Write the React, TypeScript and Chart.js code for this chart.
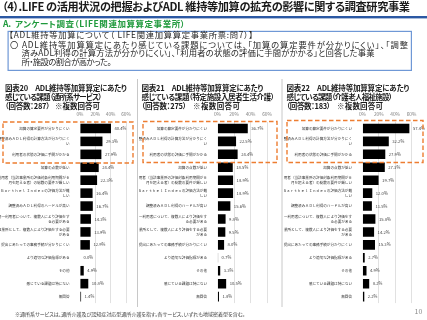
import React, { useEffect, useRef } from "react";
import { Chart, registerables } from "chart.js";

Chart.register(...registerables);

// ---------------- data ----------------
const categoryLabels: string[][] = [
  ["加算の算定要件が分かりにくい"],
  ["調整済みＡＤＬ利得の計算方法が分かりにく", "い"],
  ["利用者の状態の評価に手間がかかる"],
  ["加算の点数が低い"],
  ["利用者（当該事業所の評価対象利用期間が６", "月を超える者）の総数の要件が厳しい"],
  ["Ｂａｒｔｈｅｌ Ｉｎｄｅｘの評価方法が難", "しい"],
  ["調整済みＡＤＬ利得のハードルが高い"],
  ["同一利用者について、複数人により評価をす", "る必要がある"],
  ["事業所として、複数人により評価をする必要", "がある"],
  ["提出にあたっての事務手続が分かりにくい"],
  ["より適切な評価指標がある"],
  ["その他"],
  ["感じている課題は特にない"],
  ["無回答"],
];

const values20 = [40.4, 29.3, 27.9, 24.4, 22.3, 16.4, 16.7, 14.3, 13.9, 12.9, 0.0, 4.9, 10.8, 1.4];
const values21 = [36.7, 22.5, 24.4, 18.5, 18.9, 18.9, 15.6, 9.8, 9.5, 8.0, 0.7, 3.3, 10.5, 1.8];
const values22 = [57.4, 32.2, 27.9, 27.3, 19.7, 12.0, 11.5, 15.8, 14.2, 15.3, 2.7, 4.9, 8.2, 2.2];

const axisTicks = [0, 20, 40, 60];
const axisMax = 60;

const titleText =
  "（4）.LIFE の活用状況の把握およびADL 維持等加算の拡充の影響に関する調査研究事業";
const sectionMark = "A．";
const sectionText = "アンケート調査（LIFE関連加算算定事業所）";
const boxLines = [
  "【ADL維持等加算について（ LIFE関連加算算定事業所票:問7）】",
  "〇 ADL維持等加算算定にあたり感じている課題については、「加算の算定要件が分かりにくい」、「調整",
  "済みADL利得の計算方法が分かりにくい」、「利用者の状態の評価に手間がかかる」と回答した事業",
  "所・施設の割合が高かった。",
];
const headings20 = ["図表20　ADL維持等加算算定にあたり", "感じている課題（通所系サービス）", "（回答数：287）"];
const headings21 = ["図表21　ADL維持等加算算定にあたり", "感じている課題（特定施設入居者生活介護）", "（回答数：275）"];
const headings22 = ["図表22　ADL維持等加算算定にあたり", "感じている課題（介護老人福祉施設）", "（回答数：183）"];
const multiNote = "※複数回答可";
const footnote =
  "※通所系サービスは、通所介護及び認知症対応型通所介護を指す。各サービス、いずれも地域密着型を含む。";
const pageNumber = "10";

// ---------------- layout ----------------
const FONT = "'Noto Sans CJK JP', 'Noto Sans', sans-serif";
const CANVAS_FONT = "'Noto Sans CJK JP'";
const canvasTop = 108;
const plotTop = 122;
const canvasBottom = 308;

type Panel = {
  values: number[];
  headings: string[];
  hx: number;
  hw: number[];
  noteX: number;
  noteW: number;
  left: number;
  width: number;
  plotLeft: number;
  plotRight: number;
  box: [number, number, number, number];
};

const panels: Panel[] = [
  { values: values20, headings: headings20, hx: 5, hw: [122, 97, 45], noteX: 55, noteW: 45, left: 0, width: 136, plotLeft: 80, plotRight: 126, box: [3, 122, 133, 163] },
  { values: values21, headings: headings21, hx: 141.5, hw: [122, 133, 45], noteX: 193, noteW: 47, left: 139, width: 142, plotLeft: 217.5, plotRight: 267, box: [143, 121.5, 277, 162.5] },
  { values: values22, headings: headings22, hx: 286.5, hw: [123, 106, 44], noteX: 337, noteW: 46, left: 284, width: 143, plotLeft: 362.5, plotRight: 411.5, box: [287, 120.5, 423, 162.5] },
];

const valueLabelPlugin = {
  id: "valueLabels",
  afterDatasetsDraw(chart: any) {
    const ctx = chart.ctx as CanvasRenderingContext2D;
    const meta = chart.getDatasetMeta(0);
    const data = chart.data.datasets[0].data as number[];
    ctx.save();
    ctx.font = `4.2px ${CANVAS_FONT}`;
    ctx.fillStyle = "#404040";
    ctx.textBaseline = "middle";
    ctx.textAlign = "left";
    meta.data.forEach((bar: any, i: number) => {
      ctx.fillText(data[i].toFixed(1) + "%", bar.x + 3.5, bar.y);
    });
    ctx.restore();
  },
};

function BarPanel({ p }: { p: Panel }) {
  const ref = useRef<HTMLCanvasElement>(null);
  const height = canvasBottom - canvasTop;
  useEffect(() => {
    if (!ref.current) return;
    const chart = new Chart(ref.current, {
      type: "bar",
      data: {
        labels: categoryLabels,
        datasets: [
          {
            data: p.values,
            backgroundColor: "#000000",
            borderWidth: 0,
            barPercentage: 0.74,
            categoryPercentage: 1,
          },
        ],
      },
      options: {
        indexAxis: "y",
        animation: false,
        responsive: false,
        maintainAspectRatio: false,
        events: [],
        layout: {
          padding: { left: 0, top: 0, bottom: 0, right: p.left + p.width - p.plotRight },
        },
        plugins: { legend: { display: false }, tooltip: { enabled: false } },
        scales: {
          x: {
            position: "top",
            min: 0,
            max: axisMax,
            afterBuildTicks: (s: any) => {
              s.ticks = axisTicks.map((v) => ({ value: v }));
            },
            afterFit: (s: any) => {
              s.height = plotTop - canvasTop;
            },
            ticks: {
              callback: (v: any) => v + "%",
              font: { family: CANVAS_FONT, size: 4.8 },
              color: "#7f7f7f",
              padding: 4.6,
              maxRotation: 0,
            },
            grid: {
              drawTicks: false,
              lineWidth: 0.8,
              color: (c: any) => (c.tick && c.tick.value === 0 ? "rgba(0,0,0,0)" : "#d9d9d9"),
            },
            border: { display: false },
          },
          y: {
            afterFit: (s: any) => {
              s.width = p.plotLeft - p.left;
            },
            ticks: {
              autoSkip: false,
              font: { family: CANVAS_FONT, size: 3.6, lineHeight: 1.35 },
              color: "#333333",
              padding: 2.5,
            },
            grid: { display: false },
            border: { display: false },
          },
        },
      } as any,
      plugins: [valueLabelPlugin],
    });
    return () => chart.destroy();
  }, []);
  return (
    <canvas
      ref={ref}
      width={p.width}
      height={height}
      style={{ position: "absolute", left: p.left, top: canvasTop, width: p.width, height }}
    />
  );
}

// SVG text: x = left, cy = visual centre of the CJK em box, w = fitted width
function T({
  x,
  cy,
  size,
  text,
  bold,
  color,
  w,
}: {
  x: number;
  cy: number;
  size: number;
  text: string;
  bold?: boolean;
  color?: string;
  w?: number;
}) {
  const extra: any = w ? { textLength: w, lengthAdjust: "spacing" } : {};
  return (
    <text
      x={x}
      y={cy + 0.38 * size}
      fontSize={size}
      fontWeight={bold ? 700 : 400}
      fill={color || "#1a1a1a"}
      {...extra}
    >
      {text}
    </text>
  );
}

export default function App() {
  return (
    <div
      style={{
        position: "fixed",
        left: 0,
        top: 0,
        width: 427,
        height: 320,
        background: "#ffffff",
        overflow: "hidden",
        fontFamily: FONT,
      }}
    >
      {panels.map((p, i) => (
        <BarPanel key={i} p={p} />
      ))}

      <svg
        width={427}
        height={320}
        style={{
          position: "absolute",
          left: 0,
          top: 0,
          pointerEvents: "none",
          fontFamily: FONT,
          fontFeatureSettings: '"palt"',
        }}
      >
        <T x={2} cy={7} size={11.2} bold text={titleText} w={408} />
        <rect x={0} y={16} width={427} height={2.4} fill="#2b58a3" />
        <T x={3} cy={23.7} size={8.5} bold color="#1f9a3c" text={sectionMark} />
        <T x={15} cy={23.7} size={8.5} bold color="#1f9a3c" text={sectionText} w={170} />
        <rect x={8.1} y={31.4} width={403.3} height={39} fill="none" stroke="#6f98d6" strokeWidth={1.2} />
        <T x={9} cy={34.5} size={8.3} text={boxLines[0]} color="#262626" w={244} />
        <T x={10} cy={44.5} size={8.3} text={boxLines[1]} color="#262626" w={398} />
        <T x={21.5} cy={53} size={8.3} text={boxLines[2]} color="#262626" w={353} />
        <T x={21.5} cy={61.5} size={8.3} text={boxLines[3]} color="#262626" w={90} />

        {panels.map((p, i) => (
          <g key={i}>
            <T x={p.hx} cy={88} size={7.5} bold text={p.headings[0]} w={p.hw[0]} />
            <T x={p.hx} cy={97.3} size={7.5} bold text={p.headings[1]} w={p.hw[1]} />
            <T x={p.hx} cy={106.5} size={7.5} bold text={p.headings[2]} w={p.hw[2]} />
            <T x={p.noteX} cy={106.5} size={7.5} bold text={multiNote} w={p.noteW} />
          </g>
        ))}

        <line x1={137.5} y1={79} x2={137.5} y2={307} stroke="#c8c8c8" strokeWidth={1} />
        <line x1={282} y1={79} x2={282} y2={307} stroke="#c8c8c8" strokeWidth={1} />
        {panels.map((p, i) => (
          <rect
            key={i}
            x={p.box[0]}
            y={p.box[1]}
            width={p.box[2] - p.box[0]}
            height={p.box[3] - p.box[1]}
            fill="none"
            stroke="#ed7d31"
            strokeWidth={1.4}
            strokeDasharray="4.5 2.5"
          />
        ))}

        <T x={15} cy={313.8} size={5} text={footnote} color="#404040" w={230} />
        <T x={414.5} cy={311} size={7} text={pageNumber} color="#8c8c8c" />
      </svg>
    </div>
  );
}
